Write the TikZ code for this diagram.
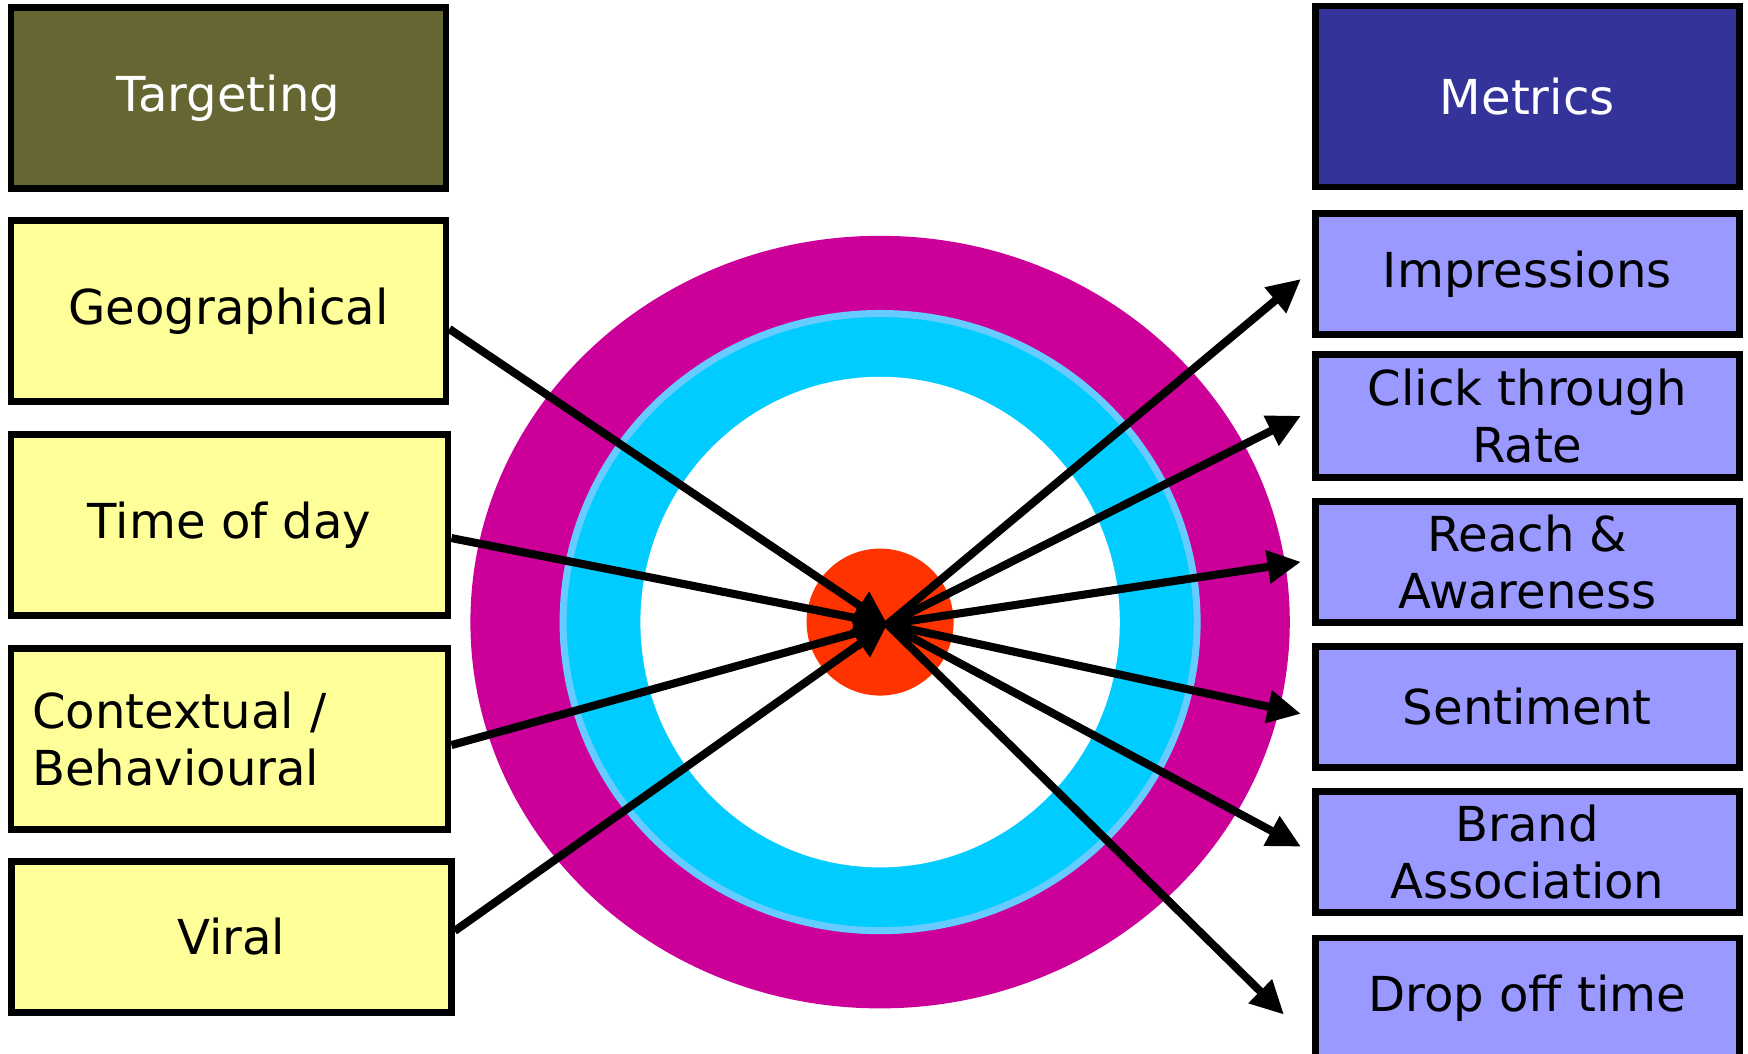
\documentclass[tikz,border=0pt]{standalone}
\usepackage{fontspec}
\setmainfont{DejaVu Sans}
\usetikzlibrary{arrows.meta}

\definecolor{headolive}{HTML}{666633}
\definecolor{tgtyellow}{HTML}{FFFF99}
\definecolor{headnavy}{HTML}{333399}
\definecolor{metlilac}{HTML}{9999FF}
\definecolor{ringmag}{HTML}{CC0099}
\definecolor{ringcyan}{HTML}{00CCFF}
\definecolor{ringedge}{HTML}{66CCFF}
\definecolor{dotred}{HTML}{FF3300}

\begin{document}
\begin{tikzpicture}[font=\fontsize{13.7}{16.2}\selectfont,
    anybox/.style={rectangle, draw=black, line width=1.9pt, align=center},
    headbox/.style={anybox, text=white, minimum height=1.81cm},
    tgtbox/.style={anybox, fill=tgtyellow, minimum height=1.81cm},
    metbox/.style={anybox, fill=metlilac, minimum width=4.24cm, minimum height=1.21cm}]

      \useasboundingbox (0,0) rectangle (17.48,10.535);

      % rings
      \fill[ringmag] (8.801,4.314) ellipse [x radius=4.097, y radius=3.863];
      \filldraw[fill=ringcyan, draw=ringedge, line width=2pt] (8.801,4.314) ellipse [x radius=3.17, y radius=3.086];
      \fill[white] (8.801,4.314) ellipse [x radius=2.397, y radius=2.453];
      \node[circle, fill=dotred, minimum size=1.47cm, inner sep=0pt] (dot) at (8.801,4.314) {};
      \coordinate (hub) at (8.874,4.292);

      \begin{scope}
        \node[headbox, fill=headolive, minimum width=4.35cm] (targ) at (2.285,9.554) {Targeting};
        \node[tgtbox, minimum width=4.35cm] (geo)  at (2.285,7.425) {Geographical};
        \node[tgtbox, minimum width=4.37cm] (time) at (2.296,5.284) {Time of day};
        \node[tgtbox, minimum width=4.37cm, text width=3.95cm, align=left] (ctx) at (2.296,3.144) {Contextual /\\Behavioural};
        \node[tgtbox, minimum width=4.40cm, minimum height=1.505cm] (viral) at (2.313,1.165) {Viral};

        \node[headbox, fill=headnavy, minimum width=4.24cm] (metr) at (15.273,9.571) {Metrics};
        \node[metbox] (imp)   at (15.273,7.795) {Impressions};
        \node[metbox, minimum height=1.23cm] (ctr) at (15.273,6.377) {Click through\\Rate};
        \node[metbox] (reach) at (15.273,4.916) {Reach \&\\Awareness};
        \node[metbox] (sent)  at (15.273,3.467) {Sentiment};
        \node[metbox] (brand) at (15.273,2.018) {Brand\\Association};
        \node[metbox] (drop)  at (15.273,0.549) {Drop off time};
      \end{scope}

      \begin{scope}[every edge/.style={draw, line width=2.3pt, -{Triangle[length=9.5pt,width=9pt]}}]
        \path ([yshift=-0.18cm]geo.east)   edge (hub);
        \path ([yshift=-0.13cm]time.east)  edge (hub);
        \path ([yshift=-0.06cm]ctx.east)   edge (hub);
        \path ([yshift=0.06cm]viral.east)  edge (hub);
        \path (hub) edge ([xshift=-0.11cm,yshift=-0.05cm]imp.west);
        \path (hub) edge ([xshift=-0.11cm]ctr.west);
        \path (hub) edge ([xshift=-0.11cm]reach.west);
        \path (hub) edge ([xshift=-0.11cm,yshift=-0.07cm]sent.west);
        \path (hub) edge ([xshift=-0.11cm,yshift=0.05cm]brand.west);
        \path (hub) edge ([xshift=-0.28cm,yshift=-0.16cm]drop.west);
      \end{scope}

    \end{tikzpicture}
\end{document}
